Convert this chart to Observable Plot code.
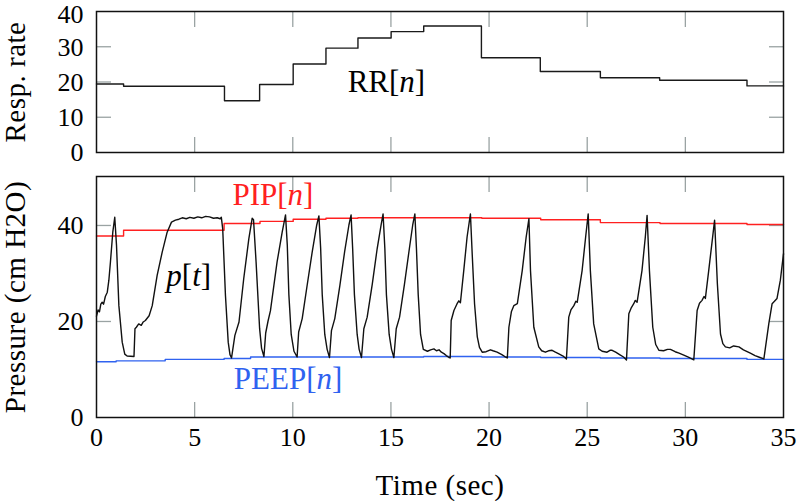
<!DOCTYPE html>
<html>
<head>
<meta charset="utf-8">
<script src="https://cdn.jsdelivr.net/npm/d3@7"></script>
<script src="https://cdn.jsdelivr.net/npm/@observablehq/plot@0.6"></script>
<style>
  html, body { margin: 0; padding: 0; background: white; }
  #chart { position: relative; width: 798px; height: 501px; background: white; }
  #chart svg { display: block; overflow: visible; }
</style>
</head>
<body>
<div id="chart"></div>
<script>
// ---- Data ----
const xTickValues = [0, 5, 10, 15, 20, 25, 30, 35];
const rrTickValues = [0, 10, 20, 30];
const rrTopTick = [40];
const pTickValues = [0, 20, 40];

// Respiratory rate RR[n] (step function)
const rrTime  = [0, 1.38, 6.52, 8.31, 10.02, 11.69, 13.32, 15.01, 16.67, 19.61, 22.61, 25.67, 28.69, 33.14, 35];
const rrValue = [19.45, 18.8, 14.7, 19.3, 25.1, 29.6, 32.5, 34.3, 35.9, 26.9, 23.0, 21.2, 20.5, 18.9, 18.9];

// PIP[n] (step function)
const pipTime  = [0, 1.38, 6.50, 8.33, 10.02, 11.69, 13.32, 19.63, 22.63, 25.67, 28.71, 33.14, 35];
const pipValue = [37.8, 39.0, 40.4, 40.85, 41.3, 41.5, 41.6, 41.5, 41.2, 40.6, 40.4, 40.2, 40.2];

// PEEP[n] (step function)
const peepTime  = [0, 1.0, 3.5, 6.5, 7.85, 16.67, 19.63, 22.63, 25.67, 28.71, 33.14, 35];
const peepValue = [11.6, 11.8, 12.1, 12.3, 12.6, 12.7, 12.6, 12.5, 12.4, 12.3, 12.1, 12.1];

// Pressure waveform p[t]
const pressureT = [
  0.00,0.08,0.15,0.22,0.29,0.36,0.45,0.55,0.63,0.71,0.83,0.93,1.02,1.14,1.31,1.44,1.56,1.91,1.96,2.03,
  2.15,2.28,2.38,2.49,2.68,2.84,3.09,3.35,3.60,3.82,4.02,4.20,4.37,4.57,4.76,4.96,5.16,5.36,5.56,5.76,
  5.96,6.15,6.30,6.36,6.43,6.57,6.71,6.80,6.88,7.05,7.26,7.50,7.76,7.93,8.00,8.13,8.31,8.41,8.53,8.62,
  8.74,8.86,9.20,9.46,9.63,9.72,9.80,9.92,10.06,10.22,10.30,10.48,10.73,10.99,11.22,11.33,11.42,11.50,11.63,11.75,
  11.87,11.97,12.14,12.40,12.64,12.86,12.97,13.05,13.14,13.28,13.38,13.50,13.62,13.79,14.05,14.30,14.50,14.60,14.69,14.77,
  14.91,15.03,15.15,15.27,15.44,15.69,15.94,16.11,16.22,16.30,16.39,16.51,16.65,16.86,17.02,17.19,17.32,17.45,17.57,17.70,
  17.82,17.96,18.02,18.07,18.21,18.37,18.46,18.54,18.71,18.88,19.05,19.14,19.26,19.40,19.51,19.65,19.85,20.07,20.20,20.41,
  20.65,20.80,20.93,21.01,21.14,21.26,21.44,21.69,21.89,22.03,22.11,22.28,22.53,22.68,22.87,23.03,23.21,23.38,23.58,23.77,
  23.94,24.06,24.17,24.32,24.42,24.49,24.74,24.92,25.05,25.16,25.33,25.59,25.76,26.01,26.16,26.27,26.45,26.65,26.85,27.00,
  27.12,27.25,27.37,27.45,27.54,27.79,27.96,28.05,28.17,28.34,28.49,28.65,28.89,29.09,29.24,29.48,29.68,29.92,30.18,30.43,
  30.60,30.72,30.85,30.95,31.02,31.19,31.37,31.49,31.63,31.79,31.91,32.04,32.26,32.46,32.73,32.96,33.31,33.55,33.80,34.00,
  34.25,34.42,34.54,34.67,34.84,35.00
];
const pressureP = [
  21.1,22.4,22.0,23.6,24.0,23.6,25.2,26.1,28.6,32.4,38.6,41.7,35.8,23.3,15.7,13.2,12.8,12.7,18.5,18.8,
  19.5,19.2,19.9,20.2,21.2,23.3,29.6,34.5,38.6,40.7,41.1,41.3,41.6,41.4,41.7,41.5,41.8,41.6,41.9,41.8,
  41.5,41.6,41.4,41.7,39.3,25.4,15.7,13.1,12.4,17.1,19.9,28.9,37.2,41.5,41.2,32.4,18.5,14.4,12.7,17.6,
  20.1,22.2,32.4,38.6,42.2,35.9,25.6,17.3,13.8,12.6,17.8,20.6,27.5,34.5,40.1,42.0,35.2,25.6,17.3,14.2,
  12.5,18.1,20.6,27.5,34.5,40.1,42.2,35.2,25.6,17.3,14.2,12.5,18.5,20.9,27.8,35.2,40.1,42.4,35.2,25.6,
  17.3,14.2,12.5,18.5,20.9,27.8,35.2,40.1,42.4,35.2,25.6,17.3,14.2,13.8,14.1,14.3,13.9,14.1,13.6,13.3,
  12.9,12.5,12.4,20.2,22.3,23.7,24.3,23.9,30.6,37.6,42.4,34.1,23.7,16.8,14.6,13.6,13.7,14.1,13.9,13.6,
  13.1,12.7,12.4,18.8,22.1,23.3,23.7,30.6,37.6,41.4,30.6,18.8,14.7,13.9,13.6,13.9,14.0,13.6,13.2,12.8,
  12.2,20.9,22.4,23.3,24.2,24.0,30.6,37.6,42.4,30.6,19.5,14.3,13.8,13.6,14.0,14.0,13.6,13.1,12.6,12.0,
  21.6,22.9,23.7,24.4,24.0,30.6,37.6,42.1,30.6,18.8,15.2,14.0,13.9,14.2,14.2,13.7,13.4,13.0,12.5,12.0,
  22.3,23.8,24.4,25.2,24.8,30.6,36.9,41.1,27.9,17.4,15.4,14.7,14.5,14.9,14.7,14.1,13.4,12.9,12.5,12.2,
  19.5,23.7,24.2,24.8,28.6,34.1
];

// Annotations (data coordinates)
const rrLabelText = ["RR[n]"];
const rrLabelT = [14.77];
const rrLabelV = [20.0];
const pLabelText = ["PIP[n]", "p[t]", "PEEP[n]"];
const pLabelT = [8.99, 4.70, 9.76];
const pLabelP = [46.3, 29.4, 8.1];

// ---- Styling ----
const FONT = "Liberation Serif";
const tickGray = "#9aa3a3";
const RED = "#ff2020";
const BLUE = "#2f62f0";
const W = 798, ML = 96, MR = 15;

function innerTicks(values, kind) {
  const L = 15;
  if (kind === "x") {
    return [
      Plot.axisX(values, {anchor: "bottom", tickSize: L, dy: -L, fill: "none", stroke: tickGray, strokeWidth: 1.3, label: null}),
      Plot.axisX(values, {anchor: "top", tickSize: L, dy: L, fill: "none", stroke: tickGray, strokeWidth: 1.3, label: null})
    ];
  }
  return [
    Plot.axisY(values, {anchor: "left", tickSize: L, dx: L, fill: "none", stroke: tickGray, strokeWidth: 1.3, label: null}),
    Plot.axisY(values, {anchor: "right", tickSize: L, dx: -L, fill: "none", stroke: tickGray, strokeWidth: 1.3, label: null})
  ];
}

const topPlot = Plot.plot({
  width: W, height: 175,
  marginLeft: ML, marginRight: MR, marginTop: 11, marginBottom: 23,
  style: {background: "white", color: "black"},
  x: {domain: [0, 35]},
  y: {domain: [0, 40]},
  marks: [
    ...innerTicks([5, 10, 15, 20, 25, 30], "x"),
    ...innerTicks([10, 20, 30], "y"),
    Plot.axisY(rrTickValues, {anchor: "left", tickSize: 0, tickPadding: 13, fontSize: 26, dy: 0.5, label: null, fill: "black"}),
    Plot.axisY(rrTopTick, {anchor: "left", tickSize: 0, tickPadding: 13, fontSize: 26, dy: 3.5, label: null, fill: "black"}),
    Plot.axisX({anchor: "bottom", ticks: [], label: null, tickSize: 0}),
    Plot.line(rrValue, {x: rrTime, y: rrValue, curve: "step-after", stroke: "#1a1a1a", strokeWidth: 1.4}),
    Plot.text(rrLabelText, {x: rrLabelT, y: rrLabelV, text: d => d, fontSize: 31, fill: "black", textAnchor: "middle", lineAnchor: "middle"}),
    Plot.text(["Resp. rate"], {frameAnchor: "left", text: d => d, rotate: -90, dx: -81, fontSize: 29, fill: "black", textAnchor: "middle", lineAnchor: "middle"}),
    Plot.frame({stroke: "#111", strokeWidth: 1.5})
  ]
});

const bottomPlot = Plot.plot({
  width: W, height: 348,
  marginLeft: ML, marginRight: MR, marginTop: 12, marginBottom: 95,
  style: {background: "transparent", color: "black"},
  x: {domain: [0, 35]},
  y: {domain: [0, 50.2]},
  marks: [
    ...innerTicks([5, 10, 15, 20, 25, 30], "x"),
    ...innerTicks([20, 40], "y"),
    Plot.axisY(pTickValues, {anchor: "left", tickSize: 0, tickPadding: 13, fontSize: 26, dy: 0.5, label: null, fill: "black"}),
    Plot.axisX(xTickValues, {anchor: "bottom", tickSize: 0, tickPadding: 10, fontSize: 26, label: null, fill: "black"}),
    Plot.line(pipValue, {x: pipTime, y: pipValue, curve: "step-after", stroke: RED, strokeWidth: 1.4}),
    Plot.line(peepValue, {x: peepTime, y: peepValue, curve: "step-after", stroke: BLUE, strokeWidth: 1.4}),
    Plot.line(pressureP, {x: pressureT, y: pressureP, stroke: "#111", strokeWidth: 1.4, curve: "linear"}),
    Plot.text(pLabelText, {x: pLabelT, y: pLabelP, text: d => d, fontSize: 31,
      fill: (d) => d.startsWith("PIP") ? RED : d.startsWith("PEEP") ? BLUE : "black",
      textAnchor: "middle", lineAnchor: "middle"}),
    Plot.text(["Pressure (cm H2O)"], {frameAnchor: "left", text: d => d, rotate: -90, dx: -81, fontSize: 29, fill: "black", textAnchor: "middle", lineAnchor: "middle"}),
    Plot.text(["Time (sec)"], {frameAnchor: "bottom", text: d => d, dy: 68, fontSize: 29, fill: "black", textAnchor: "middle", lineAnchor: "middle"}),
    Plot.frame({stroke: "#111", strokeWidth: 1.5})
  ]
});

// Italicise the math variables inside the annotations (n, t, p)
const italicParts = {
  "RR[n]": [["RR[", false], ["n", true], ["]", false]],
  "PIP[n]": [["PIP[", false], ["n", true], ["]", false]],
  "PEEP[n]": [["PEEP[", false], ["n", true], ["]", false]],
  "p[t]": [["p", true], ["[", false], ["t", true], ["]", false]]
};
const axisTitles = ["Resp. rate", "Pressure (cm H2O)", "Time (sec)"];
function italicize(svg) {
  svg.querySelectorAll("text").forEach(el => {
    if (axisTitles.includes(el.textContent)) el.style.letterSpacing = "0.5px";
    const parts = italicParts[el.textContent];
    if (!parts || el.querySelector("tspan")) return;
    el.textContent = "";
    for (const [s, it] of parts) {
      const ts = document.createElementNS("http://www.w3.org/2000/svg", "tspan");
      ts.textContent = s;
      if (it) ts.setAttribute("font-style", "italic");
      el.appendChild(ts);
    }
  });
}
for (const svg of [topPlot, bottomPlot]) {
  italicize(svg);
  svg.setAttribute("font-family", FONT);
  svg.style.fontFamily = FONT;
  svg.querySelectorAll("text, tspan").forEach(el => {
    el.setAttribute("font-family", FONT);
    el.style.setProperty("font-family", FONT, "important");
  });
}
bottomPlot.style.marginTop = "-11px";
bottomPlot.style.background = "transparent";

const chart = document.getElementById("chart");
chart.appendChild(topPlot);
chart.appendChild(bottomPlot);
</script>
</body>
</html>
